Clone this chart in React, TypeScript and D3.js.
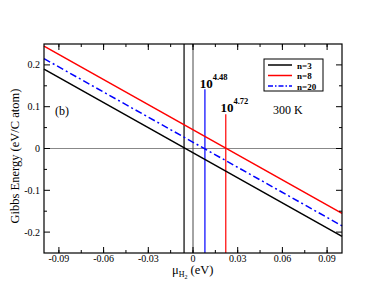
import * as d3 from "d3";

// chart values
const xEnds = [-0.1, 0.1];
const seriesNames = ["n=3", "n=8", "n=20"];
const seriesColors = ["#000000", "#ff0000", "#0000ff"];
const seriesStart = [0.19, 0.245, 0.215];
const seriesEnd = [-0.21, -0.155, -0.185];
const xTicks = [-0.09, -0.06, -0.03, 0, 0.03, 0.06, 0.09];
const yTicks = [-0.2, -0.1, 0, 0.1, 0.2];
// vertical markers: x, top value, colour
const markX = [-0.006, 0.008, 0.022];
const markTop = [0.25, 0.142, 0.082];
const markColor = ["#000000", "#0000ff", "#ff0000"];
const labelX = [0.0045, 0.0184];
const labelY = [0.145, 0.087];
const labelExp = ["4.48", "4.72"];

const W = 385;
const H = 298;
const m = { left: 44, top: 44, right: 342, bottom: 253 };
const font = "Liberation Serif, Times New Roman, serif";

export default function App() {
  const x = d3.scaleLinear().domain([-0.1, 0.1]).range([m.left, m.right]);
  const y = d3.scaleLinear().domain([-0.25, 0.25]).range([m.bottom, m.top]);
  const line = d3
    .line<[number, number]>()
    .x((d) => x(d[0]))
    .y((d) => y(d[1]));

  const xMinor = d3.range(-0.105, 0.1001, 0.015).filter((v) => v > -0.1 && v < 0.1);
  const yMinor = [-0.15, -0.05, 0.05, 0.15];
  const dashes = [null, null, "7,3,2,3"];

  return (
    <svg
      width={W}
      height={H}
      style={{ position: "absolute", left: 0, top: 0, background: "#fff", fontFamily: font }}
    >
      {/* zero lines */}
      <line x1={m.left} x2={m.right} y1={y(0)} y2={y(0)} stroke="#888" strokeWidth={1.2} />
      <line x1={x(0)} x2={x(0)} y1={m.top} y2={m.bottom} stroke="#333" strokeWidth={0.9} />

      {/* vertical markers */}
      {markX.map((v, i) => (
        <line
          key={"mk" + i}
          x1={x(v)}
          x2={x(v)}
          y1={y(markTop[i])}
          y2={m.bottom}
          stroke={markColor[i]}
          strokeWidth={1.2}
        />
      ))}

      {/* series */}
      {seriesNames.map((n, i) => (
        <path
          key={n}
          d={line([
            [xEnds[0], seriesStart[i]],
            [xEnds[1], seriesEnd[i]],
          ]) as string}
          fill="none"
          stroke={seriesColors[i]}
          strokeWidth={1.5}
          strokeDasharray={dashes[i] ?? undefined}
        />
      ))}

      {/* frame */}
      <rect
        x={m.left}
        y={m.top}
        width={m.right - m.left}
        height={m.bottom - m.top}
        fill="none"
        stroke="#000"
        strokeWidth={1.2}
      />

      {/* x ticks */}
      {xTicks.map((t) => (
        <g key={"xt" + t}>
          <line x1={x(t)} x2={x(t)} y1={m.bottom} y2={m.bottom - 6} stroke="#000" />
          <line x1={x(t)} x2={x(t)} y1={m.top} y2={m.top + 6} stroke="#000" />
          <text x={x(t)} y={262} fontSize={10} textAnchor="middle">
            {t === 0 ? "0" : t.toFixed(2)}
          </text>
        </g>
      ))}
      {xMinor.map((t, i) => (
        <g key={"xm" + i}>
          <line x1={x(t)} x2={x(t)} y1={m.bottom} y2={m.bottom - 3} stroke="#000" />
          <line x1={x(t)} x2={x(t)} y1={m.top} y2={m.top + 3} stroke="#000" />
        </g>
      ))}

      {/* y ticks */}
      {yTicks.map((t) => (
        <g key={"yt" + t}>
          <line x1={m.left} x2={m.left + 6} y1={y(t)} y2={y(t)} stroke="#000" />
          <line x1={m.right} x2={m.right - 6} y1={y(t)} y2={y(t)} stroke="#000" />
          <text x={40} y={y(t) + 3.5} fontSize={10} textAnchor="end">
            {t === 0 ? "0" : t.toFixed(1)}
          </text>
        </g>
      ))}
      {yMinor.map((t) => (
        <g key={"ym" + t}>
          <line x1={m.left} x2={m.left + 3} y1={y(t)} y2={y(t)} stroke="#000" />
          <line x1={m.right} x2={m.right - 3} y1={y(t)} y2={y(t)} stroke="#000" />
        </g>
      ))}

      {/* axis titles */}
      <text
        transform={`translate(19,156) rotate(-90)`}
        fontSize={12.5}
        textAnchor="middle"
      >
        Gibbs Energy (eV/C atom)
      </text>
      <text x={172} y={274} fontSize={12.5}>
        μ
        <tspan fontSize={8} dy={3}>H</tspan>
        <tspan fontSize={6} dy={2}>2</tspan>
        <tspan fontSize={12.5} dy={-5}> (eV)</tspan>
      </text>

      {/* annotations */}
      {labelExp.map((e, i) => (
        <text key={e} x={x(labelX[i])} y={y(labelY[i])} fontSize={13} fontWeight="bold">
          10
          <tspan fontSize={8.5} dy={-8}>{e}</tspan>
        </text>
      ))}
      <text x={273} y={114} fontSize={12}>300 K</text>
      <text x={55} y={115} fontSize={12}>(b)</text>

      {/* legend */}
      <rect x={264} y={59} width={59} height={32} fill="#fff" stroke="#000" strokeWidth={1} />
      {seriesNames.map((n, i) => (
        <g key={"lg" + n}>
          <line
            x1={268}
            x2={292}
            y1={65 + i * 10.5}
            y2={65 + i * 10.5}
            stroke={seriesColors[i]}
            strokeWidth={1.5}
            strokeDasharray={dashes[i] ? "5,2,1.5,2" : undefined}
          />
          <text x={297} y={68.5 + i * 10.5} fontSize={9} fontWeight="bold">
            {n}
          </text>
        </g>
      ))}
    </svg>
  );
}
